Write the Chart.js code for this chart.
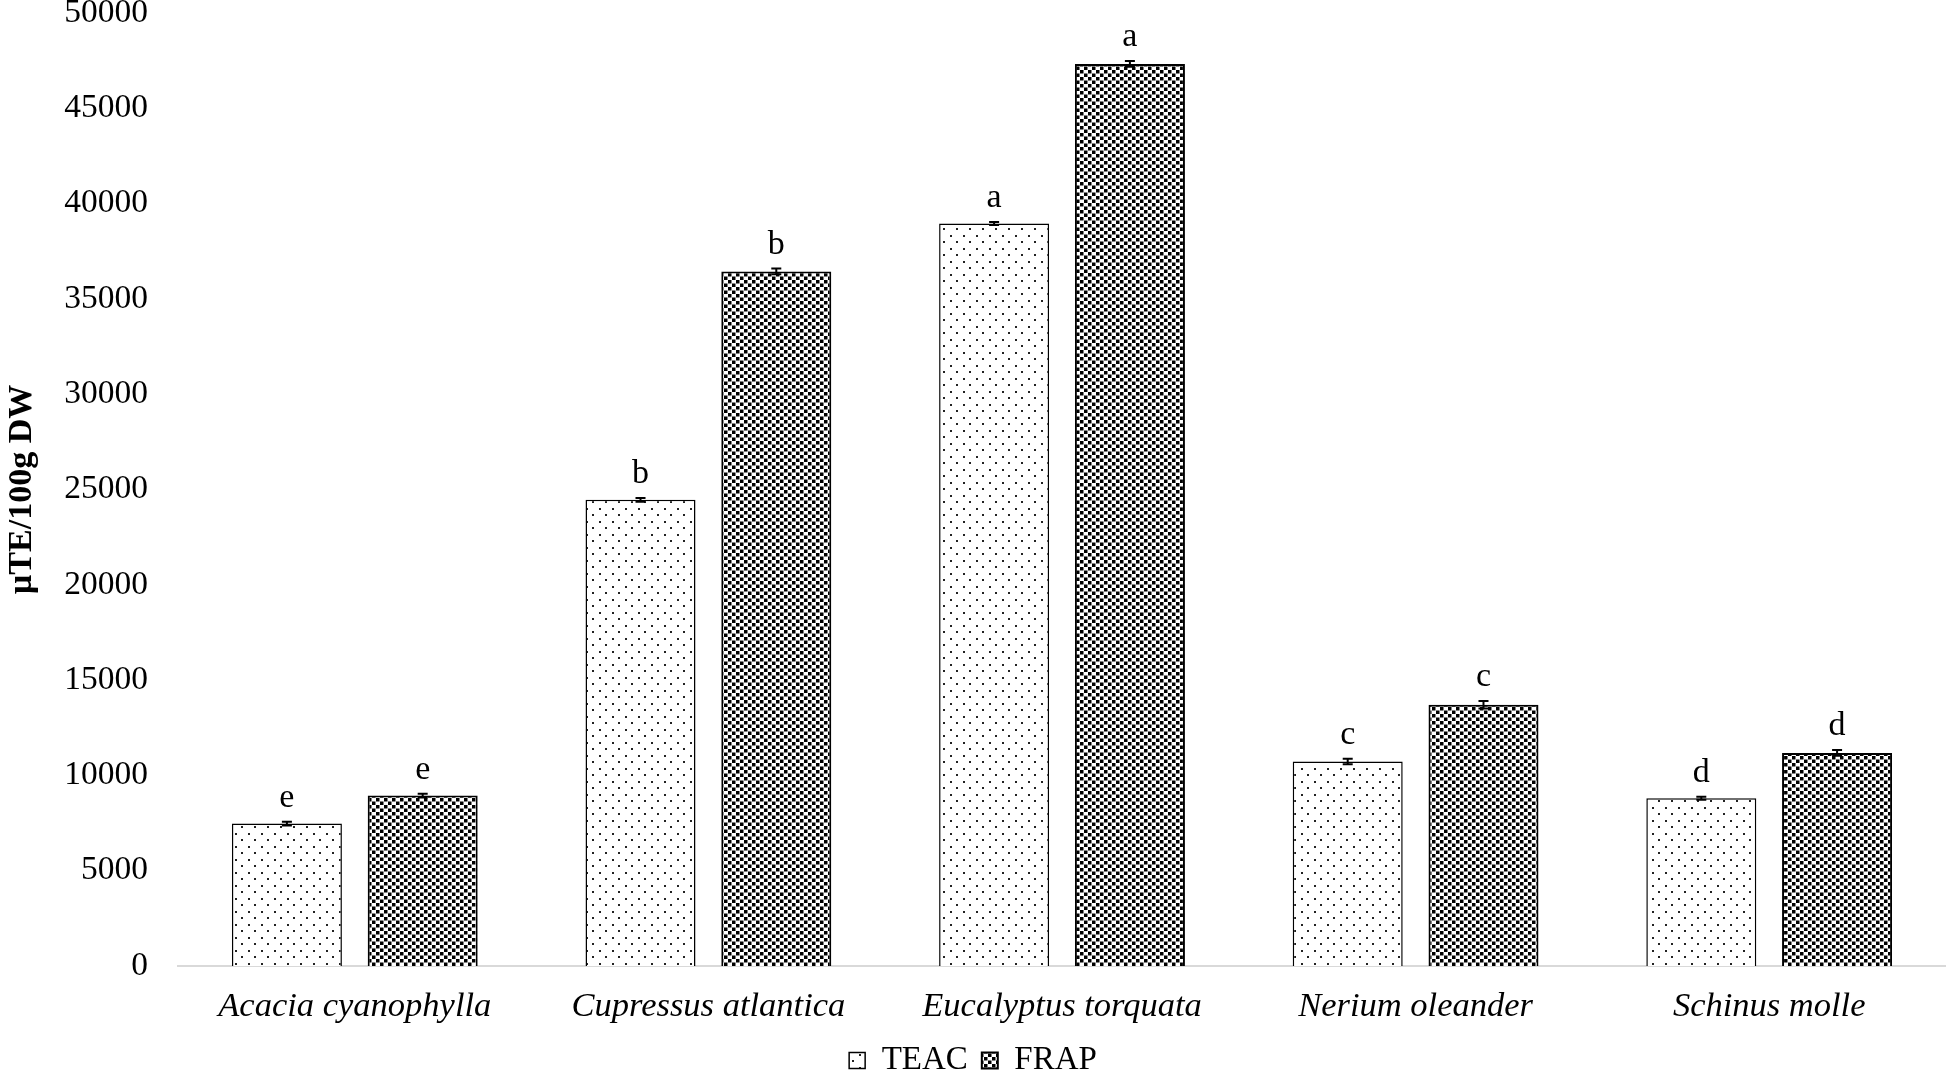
<!DOCTYPE html>
<html>
<head>
<meta charset="utf-8">
<script src="https://cdn.jsdelivr.net/npm/chart.js@4/dist/chart.umd.min.js"></script>
<style>
  html, body { margin: 0; padding: 0; background: #fff; }
  #wrap { width: 1946px; height: 1074px; }
</style>
</head>
<body>
<div id="wrap"><canvas id="chart"></canvas></div>
<script>
const categories = ["Acacia cyanophylla", "Cupressus atlantica", "Eucalyptus torquata", "Nerium oleander", "Schinus molle"];
const teacValues = [7470, 24460, 38960, 10730, 8800];
const frapValues = [8940, 36440, 47330, 13710, 11180];
const teacErrors = [100, 100, 80, 150, 80];
const frapErrors = [100, 150, 150, 200, 150];
const teacLetters = ["e", "b", "a", "c", "d"];
const frapLetters = ["e", "b", "a", "c", "d"];
const yTicks = [0, 5000, 10000, 15000, 20000, 25000, 30000, 35000, 40000, 45000, 50000];

const serif = "'Liberation Serif', 'Times New Roman', serif";

function makePattern(w, h, draw) {
  const c = document.createElement("canvas");
  c.width = w;
  c.height = h;
  const g = c.getContext("2d");
  g.fillStyle = "#fff";
  g.fillRect(0, 0, w, h);
  draw(g);
  return g.createPattern(c, "repeat");
}

// sparse dots for TEAC
const teacFill = makePattern(13, 13, g => {
  g.fillStyle = "#222";
  g.fillRect(1, 1, 2, 2);
  g.fillRect(7, 7, 2, 2);
});

// dense squares for FRAP
const frapFill = makePattern(8, 7, g => {
  g.fillStyle = "#000";
  g.fillRect(0, 0, 3.5, 3.5);
  g.fillRect(4, 3.5, 3.5, 3.5);
});

const errorLetters = {
  id: "errorLetters",
  afterDatasetsDraw(chart) {
    const ctx = chart.ctx;
    const y = chart.scales.y;
    const errs = [teacErrors, frapErrors];
    const letters = [teacLetters, frapLetters];
    ctx.save();
    chart.data.datasets.forEach((ds, i) => {
      chart.getDatasetMeta(i).data.forEach((bar, j) => {
        const v = ds.data[j];
        const top = y.getPixelForValue(v + errs[i][j]);
        const bot = y.getPixelForValue(v - errs[i][j]);
        ctx.strokeStyle = "#000";
        ctx.lineWidth = 2;
        ctx.beginPath();
        ctx.moveTo(bar.x, top);
        ctx.lineTo(bar.x, bot);
        ctx.moveTo(bar.x - 5, top);
        ctx.lineTo(bar.x + 5, top);
        ctx.moveTo(bar.x - 5, bot);
        ctx.lineTo(bar.x + 5, bot);
        ctx.stroke();
        ctx.fillStyle = "#000";
        ctx.font = "34px " + serif;
        ctx.textAlign = "center";
        ctx.textBaseline = "alphabetic";
        ctx.fillText(letters[i][j], bar.x, top - 15);
      });
    });
    ctx.restore();
  },
};

const config = {
  type: "bar",
  data: {
    labels: categories,
    datasets: [
      {
        label: "TEAC",
        data: teacValues,
        backgroundColor: teacFill,
        borderColor: "#000",
        borderWidth: 1.5,
        categoryPercentage: 0.768,
        barPercentage: 0.81,
      },
      {
        label: "FRAP",
        data: frapValues,
        backgroundColor: frapFill,
        borderColor: "#000",
        borderWidth: 2,
        categoryPercentage: 0.768,
        barPercentage: 0.81,
      },
    ],
  },
  options: {
    responsive: true,
    maintainAspectRatio: false,
    animation: false,
    layout: { padding: { top: 13, bottom: -13, left: 0, right: 0 } },
    plugins: {
      tooltip: { enabled: false },
      legend: {
        position: "bottom",
        labels: {
          color: "#000",
          font: { family: serif, size: 33 },
          boxWidth: 16,
          boxHeight: 16,
          padding: 14,
        },
      },
    },
    scales: {
      x: {
        afterFit(scale) {
          scale.height = 64;
        },
        grid: { display: false, drawTicks: false },
        border: { display: true, color: "#d9d9d9", width: 2 },
        ticks: {
          color: "#000",
          font: { family: serif, size: 34.5, style: "italic" },
          padding: 20,
          maxRotation: 0,
        },
      },
      y: {
        min: 0,
        max: 50000,
        afterBuildTicks(scale) {
          scale.ticks = yTicks.map(v => ({ value: v }));
        },
        afterFit(scale) {
          scale.width = 178;
          scale.paddingTop = 0;
          scale.paddingBottom = 0;
        },
        grid: { display: false, drawTicks: false },
        border: { display: false },
        ticks: {
          color: "#000",
          font: { family: serif, size: 33.5 },
          padding: 30,
          callback: v => String(v),
        },
        title: {
          display: true,
          text: "µTE/100g DW",
          color: "#000",
          font: { family: serif, size: 34, weight: "bold" },
          padding: { top: 2, bottom: 21 },
        },
      },
    },
  },
  plugins: [errorLetters],
};

const chart = new Chart(document.getElementById("chart"), config);
</script>
</body>
</html>
